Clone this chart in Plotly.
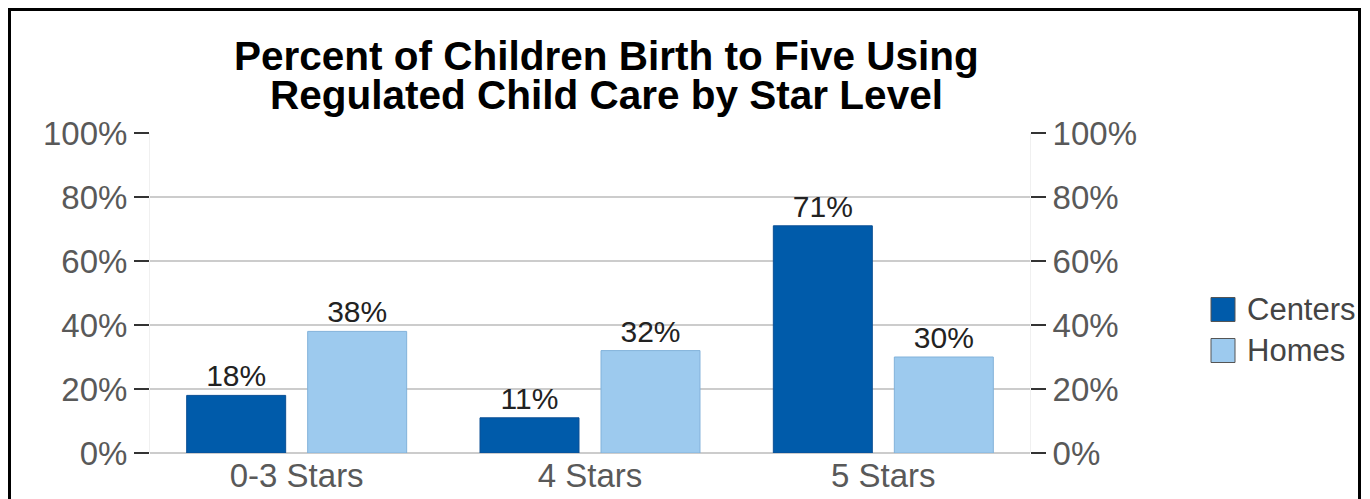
import plotly.graph_objects as go

categories = ["0-3 Stars", "4 Stars", "5 Stars"]
series_names = ["Centers", "Homes"]
centers = [18, 11, 71]
homes = [38, 32, 30]
tick_vals = [0, 20, 40, 60, 80, 100]
tick_text = ["0%", "20%", "40%", "60%", "80%", "100%"]
title_lines = ["Percent of Children Birth to Five Using", "Regulated Child Care by Star Level"]

colors = {"Centers": "#005BAA", "Homes": "#9DCAEE"}
borders = {"Centers": "#0A4F94", "Homes": "#82B2DA"}

# page has an 8px body margin; work in screenshot pixels and convert
OFF = 8
W, H = 1370 - OFF, 499 - OFF
# plot area in screenshot pixels: x 150..1030, y 133..453
L = 150 - OFF
R = W - (1030 - OFF)
T = 133 - OFF
B = H - (453 - OFF)
PW = W - L - R
PH = H - T - B


def px(x):
    return (x - OFF - L) / PW


def py(y):
    return (H - B - (y - OFF)) / PH


FONT = "Liberation Sans, Arial, sans-serif"

fig = go.Figure()
for name, vals in zip(series_names, [centers, homes]):
    fig.add_trace(go.Bar(
        name=name, x=categories, y=vals,
        marker=dict(color=colors[name], line=dict(color=borders[name], width=1)),
        text=[f"{v}%" for v in vals], textposition="outside",
        textfont=dict(family=FONT, size=30, color="#222222"),
        cliponaxis=False, showlegend=False,
    ))

# invisible helper trace to show the right-hand axis
fig.add_trace(go.Scatter(x=categories, y=[0, 0, 0], yaxis="y2", mode="markers",
                         marker=dict(opacity=0), hoverinfo="skip", showlegend=False))

axis_common = dict(
    range=[0, 100], tickvals=tick_vals, ticktext=tick_text,
    ticks="outside", ticklen=15, tickwidth=2, tickcolor="#333333",
    tickfont=dict(family=FONT, size=33, color="#595959"),
    showline=True, linecolor="#F0F0F0", linewidth=1,
    fixedrange=True,
)

fig.update_layout(
    width=W, height=H,
    margin=dict(l=L, r=R, t=T, b=B, autoexpand=False),
    paper_bgcolor="white", plot_bgcolor="white",
    barmode="group", bargap=0.175, bargroupgap=0.182,
    xaxis=dict(
        tickfont=dict(family=FONT, size=33, color="#595959"),
        ticks="", showgrid=False, showline=False, zeroline=False,
    ),
    yaxis=dict(**axis_common, showgrid=True, gridcolor="#CCCCCC", gridwidth=2,
               zeroline=True, zerolinecolor="#CCCCCC", zerolinewidth=2, side="left"),
    yaxis2=dict(**axis_common, overlaying="y", side="right", showgrid=False, zeroline=False),
    showlegend=False,
)

# title (two lines)
for line, ycen in zip(title_lines, [56, 95]):
    fig.add_annotation(text=f"<b>{line}</b>", xref="paper", yref="paper",
                       x=px(606), y=py(ycen), xanchor="center", yanchor="middle",
                       showarrow=False, font=dict(family=FONT, size=40.5, color="black"))

# legend drawn manually
for name, ycen in zip(series_names, [309.5, 350.5]):
    fig.add_shape(type="rect", xref="paper", yref="paper",
                  x0=px(1211), x1=px(1235), y0=py(ycen + 12), y1=py(ycen - 12),
                  fillcolor=colors[name], line=dict(color="#555555", width=1))
    fig.add_annotation(text=name, xref="paper", yref="paper",
                       x=px(1245), y=py(ycen), xanchor="left", yanchor="middle",
                       showarrow=False, font=dict(family=FONT, size=31, color="#444444"))

# outer frame
fig.add_shape(type="rect", xref="paper", yref="paper",
              x0=px(OFF + 1.5), x1=px(1359.5), y0=py(530), y1=py(OFF + 1.5),
              line=dict(color="black", width=3), fillcolor="rgba(0,0,0,0)")

fig.write_html("out.html")
